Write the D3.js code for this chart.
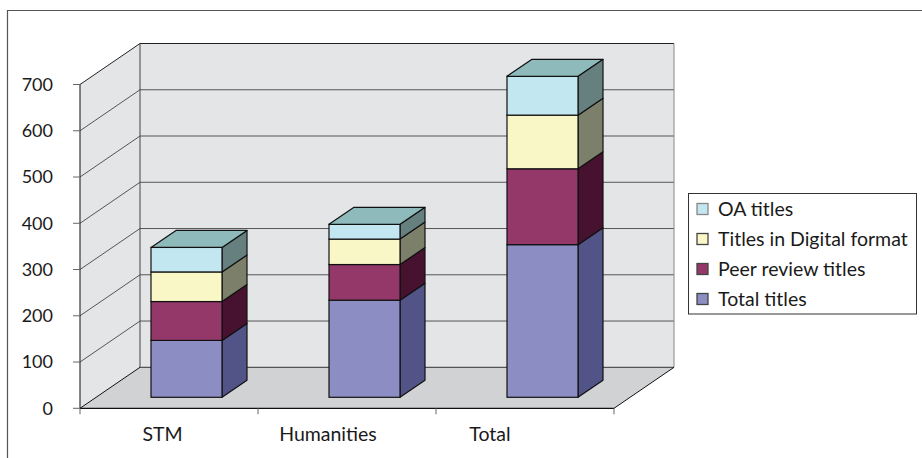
<!DOCTYPE html>
<html><head><meta charset="utf-8">
<script src="https://cdnjs.cloudflare.com/ajax/libs/d3/7.8.5/d3.min.js"></script>
<style>html,body{margin:0;padding:0;background:#fff}svg{display:block}text{font-family:Lato,"Open Sans",sans-serif;fill:#1a1a1a}</style>
</head><body><svg id="c" width="922" height="458"></svg>
<script>
const categories = ["STM","Humanities","Total"];
const seriesNames = ["Total titles","Peer review titles","Titles in Digital format","OA titles"];
const totalTitles = [123,210,330];
const peerReview = [84,77,164];
const digitalFormat = [64,55,116];
const oaTitles = [53,32,84];
const yTicks = [0,100,200,300,400,500,600,700];
const frontColors = ["#8b8dc3","#94386a","#f9f7c6","#c2e7f0"];
const sideColors = ["#525386","#47122f","#7c7f69","#66807f"];
const topColor = "#8fbabb";

const values = [totalTitles,peerReview,digitalFormat,oaTitles];
const svg = d3.select("#c");
const y = d3.scaleLinear().domain([0,700]).range([408.3,84.5]);
const x = d3.scaleBand().domain(categories).range([80,614]).paddingInner(0).paddingOuter(0);
const wallDx = 60, wallDy = -41;
const barW = 71, barDx0 = 17.5, barDy0 = -11, barDdx = 25, barDdy = -17;
const pts = a => a.map(p=>p.join(",")).join(" ");

// frame: only the top and left edges are inside the picture
svg.append("polyline").attr("points",pts([[7.5,458],[7.5,10.5],[922,10.5]]))
  .attr("fill","none").attr("stroke","#555").attr("stroke-width",1.2);

// walls
const xL=x.range()[0], xR=x.range()[1], y0=y(0), yT=y(700);
svg.append("polygon").attr("points",pts([[xL,y0],[xL+wallDx,y0+wallDy],[xL+wallDx,yT+wallDy],[xL,yT]]))
  .attr("fill","#e4e5e7").attr("stroke","none");
svg.append("polygon").attr("points",pts([[xL+wallDx,y0+wallDy],[xR+wallDx,y0+wallDy],[xR+wallDx,yT+wallDy],[xL+wallDx,yT+wallDy]]))
  .attr("fill","#e4e5e7").attr("stroke","none");
svg.append("polygon").attr("points",pts([[xL,y0],[xR,y0],[xR+wallDx,y0+wallDy],[xL+wallDx,y0+wallDy]]))
  .attr("fill","#d1d2d4").attr("stroke","none");
// gridlines
yTicks.slice(1).forEach(t=>{
  svg.append("polyline").attr("points",pts([[xL,y(t)],[xL+wallDx,y(t)+wallDy],[xR+wallDx,y(t)+wallDy]]))
    .attr("fill","none").attr("stroke",t===700?"#222":"#555").attr("stroke-width",1);
});
svg.append("line").attr("x1",xL+wallDx).attr("x2",xL+wallDx).attr("y1",yT+wallDy).attr("y2",y0+wallDy).attr("stroke","#444");
svg.append("line").attr("x1",xR+wallDx).attr("x2",xR+wallDx).attr("y1",yT+wallDy).attr("y2",y0+wallDy).attr("stroke","#888");
svg.append("polyline").attr("points",pts([[xL+wallDx,y0+wallDy],[xR+wallDx,y0+wallDy]])).attr("fill","none").attr("stroke","#333");
svg.append("polyline").attr("points",pts([[xL,y0],[xL+wallDx,y0+wallDy]])).attr("fill","none").attr("stroke","#111");
svg.append("polyline").attr("points",pts([[xR,y0],[xR+wallDx,y0+wallDy]])).attr("fill","none").attr("stroke","#111");

// axes
svg.append("line").attr("x1",xL).attr("x2",xL).attr("y1",yT).attr("y2",y0).attr("stroke","#333").attr("stroke-width",1.2);
svg.append("line").attr("x1",xL).attr("x2",xR).attr("y1",y0).attr("y2",y0).attr("stroke","#111").attr("stroke-width",1.2);
yTicks.forEach(t=>{
  svg.append("line").attr("x1",xL-7).attr("x2",xL).attr("y1",y(t)).attr("y2",y(t)).attr("stroke","#666");
  svg.append("text").attr("x",53).attr("y",y(t)).attr("dy","0.35em").attr("text-anchor","end").attr("font-size",18).text(t);
});
d3.range(0,4).forEach(i=>{
  const px = xL + i*x.step();
  svg.append("line").attr("x1",px).attr("x2",px).attr("y1",y0).attr("y2",y0+6).attr("stroke","#666");
});
const labelX = {STM:162.5, Humanities:328, Total:490};
categories.forEach(c=>{
  svg.append("text").attr("x",labelX[c]).attr("y",441).attr("text-anchor","middle").attr("font-size",19.5).text(c);
});

// bars
categories.forEach((c,i)=>{
  const bl = x(c)+x.step()/2-barW/2+barDx0;
  const br = bl+barW;
  let acc = 0;
  values.forEach((s,k)=>{
    const a = y(acc)+barDy0, b = y(acc+s[i])+barDy0;
    acc += s[i];
    svg.append("polygon").attr("points",pts([[br,a],[br+barDdx,a+barDdy],[br+barDdx,b+barDdy],[br,b]]))
      .attr("fill",sideColors[k]).attr("stroke","#111").attr("stroke-width",1.2).attr("stroke-linejoin","round");
    svg.append("rect").attr("x",bl).attr("y",b).attr("width",barW).attr("height",a-b)
      .attr("fill",frontColors[k]).attr("stroke","#111").attr("stroke-width",1.2);
    if(k===values.length-1){
      svg.append("polygon").attr("points",pts([[bl,b],[br,b],[br+barDdx,b+barDdy],[bl+barDdx,b+barDdy]]))
        .attr("fill",topColor).attr("stroke","#111").attr("stroke-width",1.2).attr("stroke-linejoin","round");
    }
  });
});

// legend
svg.append("rect").attr("x",688.5).attr("y",193.5).attr("width",228).attr("height",120.5).attr("fill","#fff").attr("stroke","#333");
[3,2,1,0].forEach((k,i)=>{
  const cy = 209+i*30;
  svg.append("rect").attr("x",697).attr("y",cy-5.5).attr("width",11).attr("height",11)
    .attr("fill",frontColors[k]).attr("stroke",i===0?"#888":"#444").attr("stroke-width",1.3);
  svg.append("text").attr("x",718).attr("y",cy).attr("dy","0.35em").attr("font-size",19.5).text(seriesNames[k]);
});
</script></body></html>
